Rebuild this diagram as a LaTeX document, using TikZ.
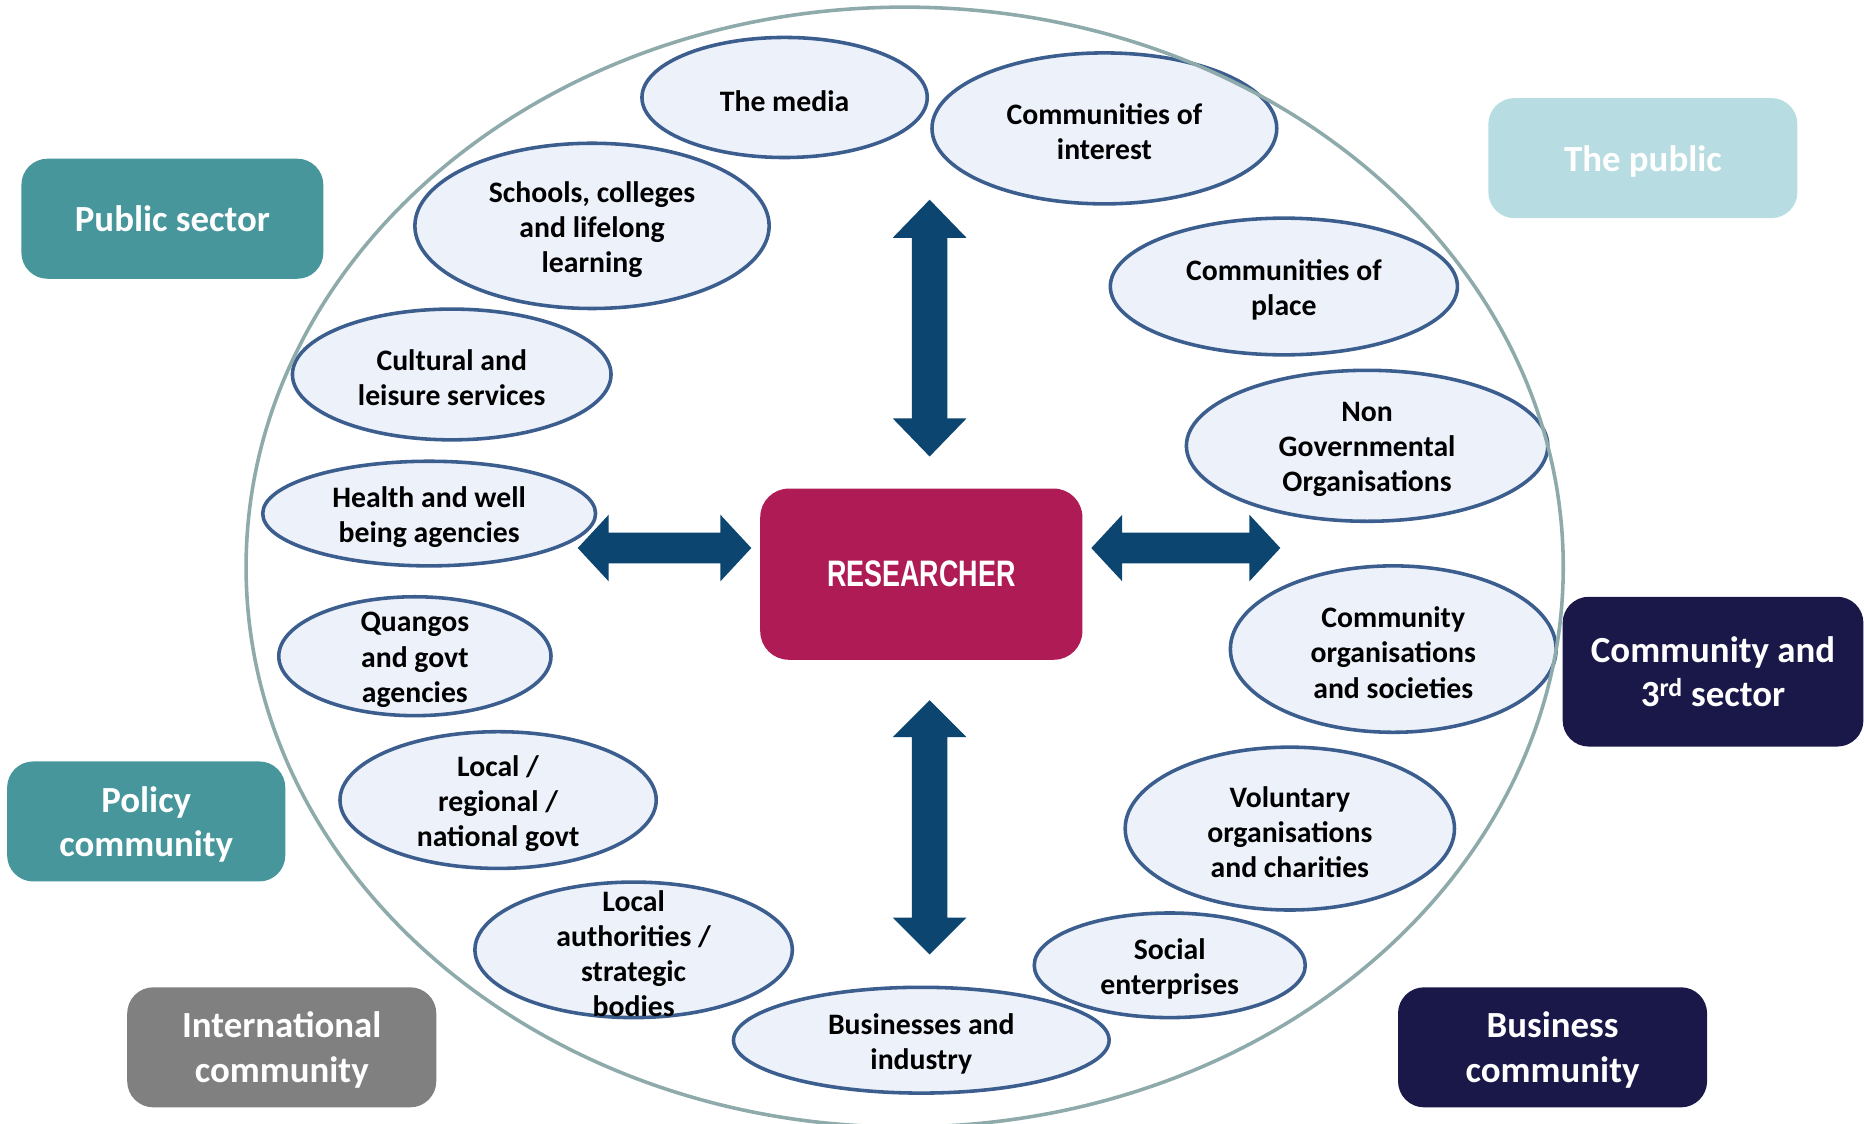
\documentclass[tikz,border=0pt]{standalone}
\usepackage{fontspec}
\usepackage{graphicx}
\usetikzlibrary{shapes.geometric}
\setmainfont{Carlito}
\newfontfamily\headfont{Liberation Sans}

\definecolor{ringgray}{HTML}{8EAAAA}
\definecolor{bubblefill}{HTML}{EDF1FA}
\definecolor{bubbleedge}{HTML}{3C5E8E}
\definecolor{arrowblue}{HTML}{0B4570}
\definecolor{researcher}{HTML}{AF1B55}
\definecolor{sectorteal}{HTML}{46969C}
\definecolor{publicteal}{HTML}{B7DCE1}
\definecolor{sectornavy}{HTML}{1A1848}
\definecolor{sectorgray}{HTML}{808080}

\tikzset{
  bubble/.style={ellipse, draw=bubbleedge, line width=3pt, fill=bubblefill, inner sep=0pt},
  bubbletext/.style={align=center, inner sep=0pt, yshift=-3pt, font=\fontsize{25}{29.5}\selectfont\bfseries},
  group/.style={rounded corners=22pt, inner sep=0pt, align=center, text=white, text depth=0pt,
    font=\fontsize{31}{37.5}\selectfont\bfseries}
}

\begin{document}
\begin{tikzpicture}[x=1pt,y=-1pt]
\useasboundingbox (0,0) rectangle (1568,945);

% Stakeholders
\node[bubble, minimum width=240, minimum height=101, label={[bubbletext]center:The media}] (media) at (660,82) {};
\node[bubble, minimum width=290, minimum height=127, label={[bubbletext]center:Communities of\\interest}] (interest) at (929,108) {};
\node[bubble, minimum width=298, minimum height=139, label={[bubbletext]center:Schools, colleges\\and lifelong\\learning}] (schools) at (498,190) {};
\node[bubble, minimum width=292, minimum height=115, label={[bubbletext]center:Communities of\\place}] (place) at (1080,241) {};
\node[bubble, minimum width=268, minimum height=110, label={[bubbletext]center:Cultural and\\leisure services}] (cultural) at (380,315) {};
\node[bubble, minimum width=304, minimum height=127, label={[bubbletext]center:Non\\Governmental\\Organisations}] (ngo) at (1150,375) {};
\node[bubble, minimum width=280, minimum height=88, label={[bubbletext]center:Health and well\\being agencies}] (health) at (361,432) {};
\node[bubble, minimum width=274, minimum height=140, label={[bubbletext]center:Community\\organisations\\and societies}] (commorg) at (1172,546) {};
\node[bubble, minimum width=229, minimum height=100, label={[bubbletext]center:Quangos\\and govt\\agencies}] (quangos) at (349,552) {};
\node[bubble, minimum width=266, minimum height=115, label={[bubbletext]center:Local /\\regional /\\national govt}] (govt) at (419,673) {};
\node[bubble, minimum width=277, minimum height=137, label={[bubbletext]center:Voluntary\\organisations\\and charities}] (voluntary) at (1085,697) {};
\node[bubble, minimum width=228, minimum height=88, label={[bubbletext]center:Social\\enterprises}] (social) at (984,812) {};
\node[bubble, minimum width=267, minimum height=114, label={[bubbletext]center:Local\\authorities /\\strategic\\bodies}] (authorities) at (533,799) {};
\node[bubble, minimum width=316, minimum height=89, label={[bubbletext]center:Businesses and\\industry}] (business) at (775,875) {};

% Ring
\draw[ringgray, line width=3pt] (761,477) ellipse (554 and 471);

% Groups
\node[group, fill=sectorteal, minimum width=254, minimum height=101] (pubsector) at (145,184) {Public sector};
\node[group, fill=publicteal, minimum width=260, minimum height=101] (public) at (1382,133) {The public};
\node[group, fill=sectornavy, minimum width=253, minimum height=126] (thirdsector) at (1441,565) {Community and\\3\textsuperscript{rd} sector};
\node[group, fill=sectorteal, minimum width=234, minimum height=101] (policy) at (123,691) {Policy\\community};
\node[group, fill=sectorgray, minimum width=260, minimum height=101] (intl) at (237,881) {International\\community};
\node[group, fill=sectornavy, minimum width=260, minimum height=101] (buscomm) at (1306,881) {Business\\community};

% Researcher
\node[fill=researcher, rounded corners=24pt, minimum width=271, minimum height=144, text=white,
  font=\headfont\fontsize{31}{36}\selectfont\bfseries] (res) at (775,483) {\raisebox{-2pt}{\scalebox{0.73}[1]{RESEARCHER}}};

% Arrows
\fill[arrowblue] (782,168) -- (813,200) -- (797,200) -- (797,352) -- (813,352) -- (782,384)
  -- (751,352) -- (767,352) -- (767,200) -- (751,200) -- cycle;
\fill[arrowblue] (782,589) -- (813,620) -- (797,620) -- (797,772) -- (813,772) -- (782,803)
  -- (751,772) -- (767,772) -- (767,620) -- (751,620) -- cycle;
\fill[arrowblue] (486,461) -- (512,433) -- (512,448) -- (606,448) -- (606,433) -- (632,461)
  -- (606,489) -- (606,474) -- (512,474) -- (512,489) -- cycle;
\fill[arrowblue] (918,461) -- (944,433) -- (944,448) -- (1051,448) -- (1051,433) -- (1077,461)
  -- (1051,489) -- (1051,474) -- (944,474) -- (944,489) -- cycle;

\end{tikzpicture}
\end{document}
